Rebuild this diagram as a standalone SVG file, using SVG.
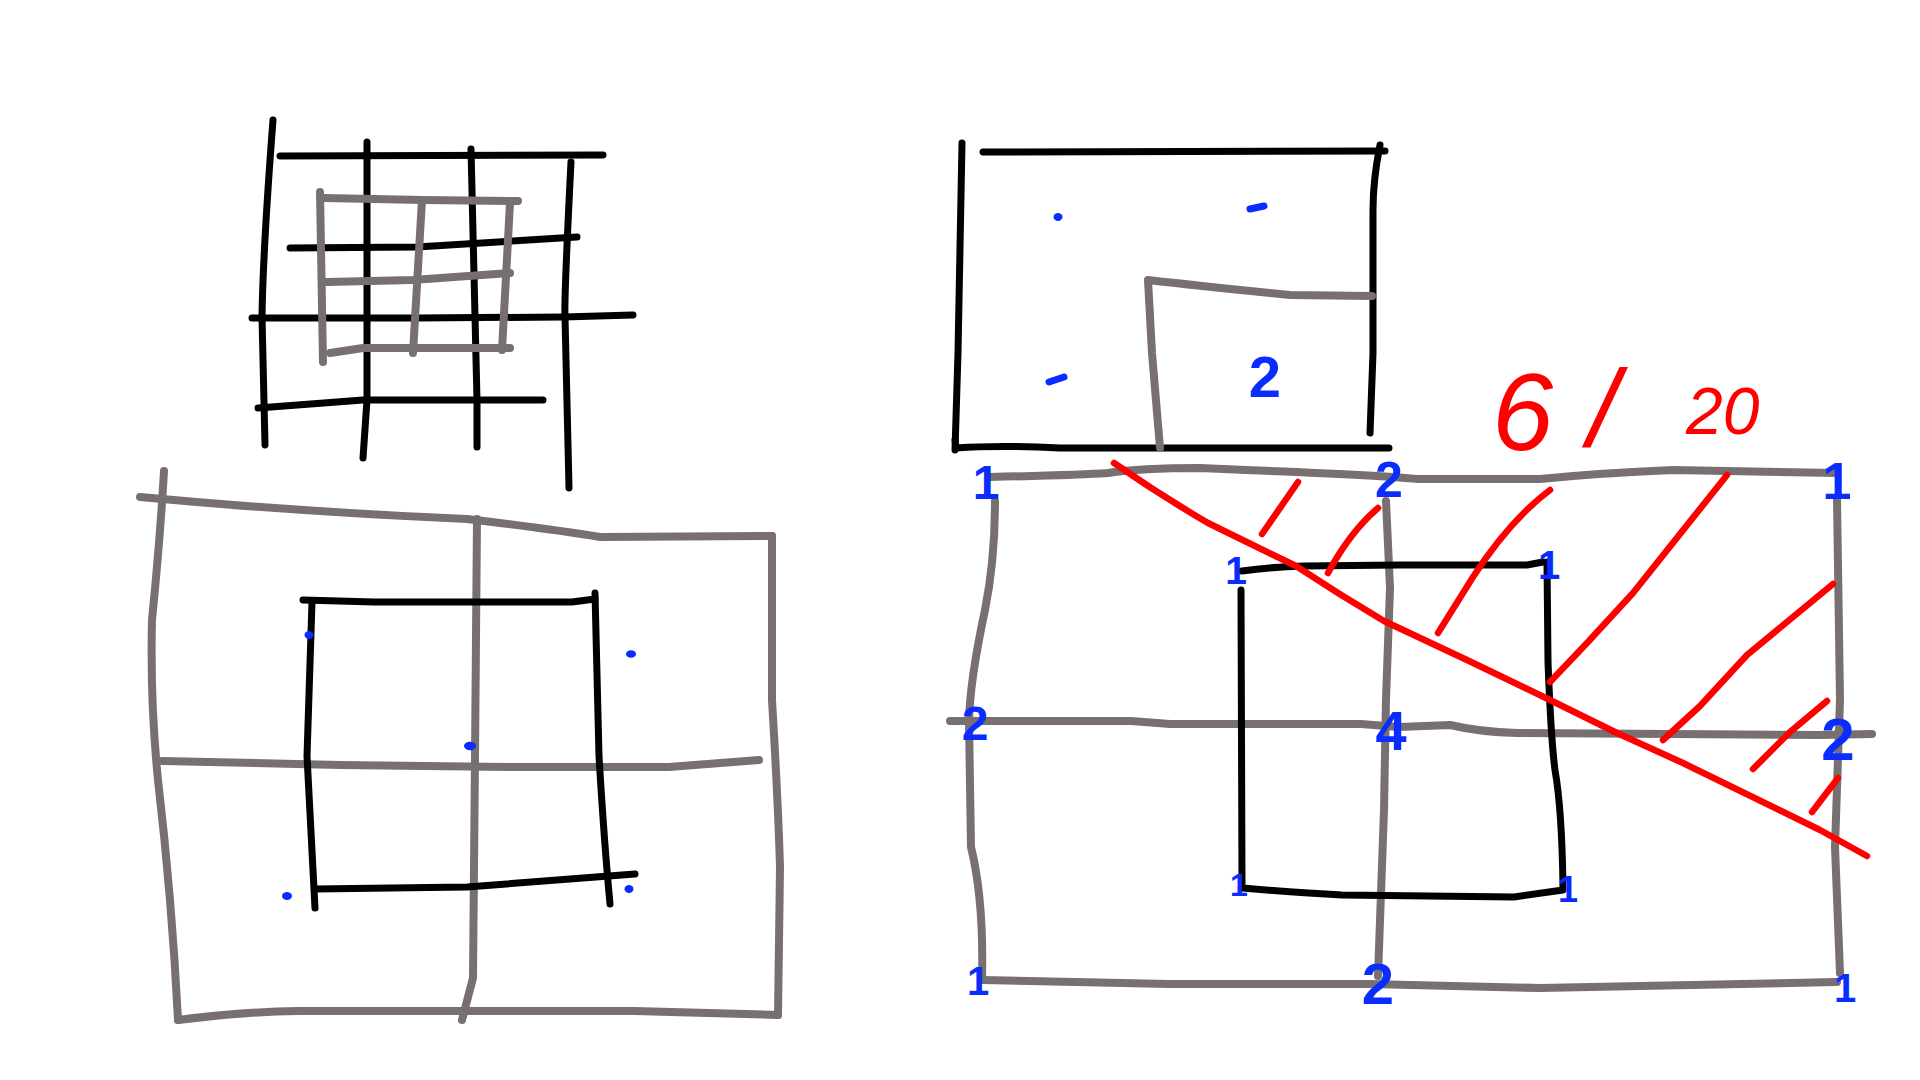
<svg xmlns="http://www.w3.org/2000/svg" width="1920" height="1080" viewBox="0 0 1920 1080">
<style>
.k{fill:none;stroke:#000;stroke-width:7;stroke-linecap:round;stroke-linejoin:round}
.g{fill:none;stroke:#787070;stroke-width:8;stroke-linecap:round;stroke-linejoin:round}
.r{fill:none;stroke:#ff0000;stroke-width:6.5;stroke-linecap:round;stroke-linejoin:round}
.bm{fill:none;stroke:#0a2cff;stroke-width:7;stroke-linecap:round}
.bd{fill:#0a2cff}
.bt{fill:#0a2cff;font-family:"Liberation Sans",Arial,sans-serif;font-weight:bold;text-anchor:middle}
.rt{fill:#ff0000;font-family:"Liberation Sans",Arial,sans-serif;font-style:italic}
</style>
<rect width="1920" height="1080" fill="#fff"/>

<g id="grid-small">
<path class="k" d="M273,120 Q263,250 262,317 L265,445"/>
<path class="k" d="M280,156 L603,155"/>
<path class="k" d="M367,142 L367,400 L363,458"/>
<path class="k" d="M471,149 L477,400 L477,447"/>
<path class="k" d="M571,162 Q564,300 565,317 L569,488"/>
<path class="k" d="M290,248 L417,247 L577,237"/>
<path class="k" d="M252,318 L417,318 L563,317 L633,315"/>
<path class="k" d="M258,408 L363,400 L543,400"/>
<path class="g" d="M320,192 L323,362"/>
<path class="g" d="M323,198 L423,200 L518,201"/>
<path class="g" d="M422,200 L413,353"/>
<path class="g" d="M510,203 L502,350"/>
<path class="g" d="M327,282 L413,280 L510,273"/>
<path class="g" d="M330,353 L363,348 L510,348"/>
</g>

<g id="grid-lower-left">
<path class="g" d="M164,471 Q160,540 152,620 Q150,700 158,780 Q172,900 178,1020"/>
<path class="g" d="M140,497 Q300,512 467,519 Q560,530 600,537 L772,536"/>
<path class="g" d="M772,536 L772,700 Q778,800 780,867 L778,1015"/>
<path class="g" d="M178,1020 Q240,1012 298,1011 L635,1011 L778,1015"/>
<path class="g" d="M477,519 L475,756 L473,978 L462,1020"/>
<path class="g" d="M162,761 L340,765 L509,767 L669,767 L759,760"/>
<path class="k" d="M303,600 L374,602 L572,602 L595,599"/>
<path class="k" d="M312,602 L307,756 L315,908"/>
<path class="k" d="M595,593 L599,756 Q604,840 610,904"/>
<path class="k" d="M315,889 L467,887 L635,874"/>
<ellipse class="bd" cx="309" cy="635" rx="4.5" ry="4"/>
<ellipse class="bd" cx="631" cy="654" rx="5" ry="3.8"/>
<ellipse class="bd" cx="470" cy="746" rx="6" ry="4.2"/>
<ellipse class="bd" cx="287" cy="896" rx="5" ry="4"/>
<ellipse class="bd" cx="629" cy="889" rx="4.5" ry="4"/>
</g>

<g id="box-top-right">
<path class="k" d="M962,143 L958,353 L955,450"/>
<path class="k" d="M983,152 L1385,151"/>
<path class="k" d="M1380,145 Q1373,180 1373,210 L1373,353 L1370,433"/>
<path class="k" d="M955,440 L956,448 Q1000,445 1060,448 L1389,448"/>
<path class="g" d="M1160,448 L1152,353 L1148,280 Q1200,286 1290,295 L1372,296"/>
<ellipse class="bd" cx="1058" cy="217" rx="4.5" ry="4"/>
<path class="bm" d="M1250,209 L1264,206"/>
<path class="bm" d="M1049,382 L1064,377"/>
<text class="bt" x="1265" y="397" font-size="58">2</text>
</g>

<g id="grid-large-right">
<path class="g" d="M990,477 Q1080,475 1108,473 Q1140,468 1200,468 L1246,470 Q1380,475 1418,479 L1540,479 Q1600,473 1673,470 L1837,473"/>
<path class="g" d="M995,501 Q995,560 985,610 Q970,680 969,721 L971,847 Q984,900 982,980"/>
<path class="g" d="M950,721 L1131,721 L1170,724 L1361,724 L1399,727 L1450,725 Q1480,732 1517,733 L1820,735 L1872,734"/>
<path class="g" d="M1386,501 L1390,588 L1386,699 L1384,810 L1378,976"/>
<path class="g" d="M982,980 L1170,984 L1369,984 L1540,988 L1837,982"/>
<path class="g" d="M1837,499 L1840,699 L1835,847 L1840,973"/>
<path class="k" d="M1242,571 Q1270,567 1304,566 L1400,565 L1527,565 L1543,562"/>
<path class="k" d="M1241,590 L1242,884"/>
<path class="k" d="M1242,888 Q1300,893 1342,895 L1514,897 L1563,890"/>
<path class="k" d="M1547,562 L1548,662 Q1551,740 1555,770 Q1562,810 1563,888"/>
<text class="bt" x="986" y="499" font-size="48">1</text>
<text class="bt" x="1389" y="497" font-size="50">2</text>
<text class="bt" x="1236" y="584" font-size="39">1</text>
<text class="bt" x="975" y="740" font-size="48">2</text>
<text class="bt" x="1391" y="750" font-size="56">4</text>
<text class="bt" x="1239" y="896" font-size="32">1</text>
<text class="bt" x="978" y="995" font-size="40">1</text>
<text class="bt" x="1378" y="1004" font-size="58">2</text>
<text class="bt" x="1837" y="499" font-size="52">1</text>
<text class="bt" x="1549" y="579" font-size="40">1</text>
<text class="bt" x="1568" y="902" font-size="36">1</text>
<text class="bt" x="1838" y="760" font-size="60">2</text>
<text class="bt" x="1845" y="1002" font-size="40">1</text>
</g>

<g id="hatching">
<path class="r" d="M1114,463 Q1160,495 1208,523 L1296,566 Q1340,595 1384,621 L1467,660 L1550,700 L1617,733 L1683,763 L1820,830 L1867,856"/>
<path class="r" d="M1298,482 L1262,534"/>
<path class="r" d="M1378,508 Q1350,532 1328,573"/>
<path class="r" d="M1550,490 Q1510,520 1473,577 L1438,633"/>
<path class="r" d="M1727,475 L1633,593 L1587,643 L1550,682"/>
<path class="r" d="M1833,584 L1747,655 L1700,706 L1663,740"/>
<path class="r" d="M1827,701 L1790,732 L1753,769"/>
<path class="r" d="M1838,778 L1812,812"/>
<text class="rt" font-size="110"><tspan x="1492" y="450">6</tspan><tspan x="1588" y="446">/</tspan><tspan x="1686" y="434" font-size="66">20</tspan></text>
</g>
</svg>
